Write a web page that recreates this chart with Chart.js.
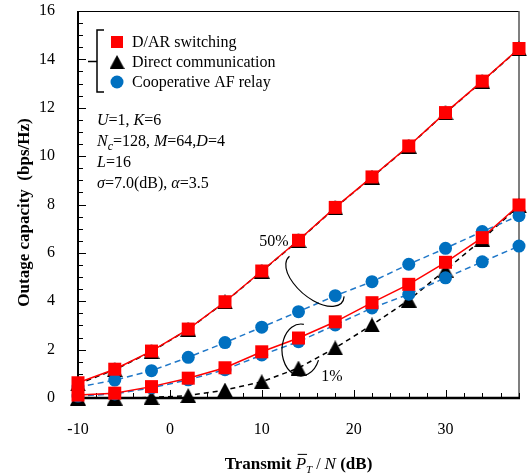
<!DOCTYPE html>
<html><head><meta charset="utf-8">
<script src="https://cdn.jsdelivr.net/npm/chart.js@4/dist/chart.umd.min.js"></script>
<style>html,body{margin:0;padding:0;background:#fff;}</style>
</head><body>
<canvas id="c" width="532" height="475"></canvas>
<script>
// ---- data ----
const snrDb = [-10, -6, -2, 2, 6, 10, 14, 18, 22, 26, 30, 34, 38];
const darHigh    = [0.63, 1.19, 1.94, 2.85, 3.98, 5.25, 6.52, 7.88, 9.14, 10.42, 11.80, 13.10, 14.45];
const directHigh = [0.58, 1.17, 1.92, 2.84, 3.97, 5.24, 6.51, 7.87, 9.13, 10.41, 11.79, 13.09, 14.44];
const afHigh     = [0.45, 0.74, 1.13, 1.68, 2.29, 2.93, 3.57, 4.23, 4.81, 5.53, 6.19, 6.88, 7.54];
const darLow     = [0.12, 0.20, 0.47, 0.82, 1.25, 1.91, 2.48, 3.15, 3.94, 4.70, 5.61, 6.63, 7.98];
const directLow  = [0.00, 0.00, 0.02, 0.10, 0.33, 0.67, 1.24, 2.07, 3.02, 4.05, 5.29, 6.55, 7.95];
const afLow      = [0.08, 0.17, 0.42, 0.75, 1.17, 1.78, 2.33, 3.02, 3.72, 4.29, 4.97, 5.63, 6.28];
const xTicks = [-10, 0, 10, 20, 30];
const yTicks = [0, 2, 4, 6, 8, 10, 12, 14, 16];
const legendLabels = ['D/AR switching', 'Direct communication', 'Cooperative AF relay'];
const annoLabels = ['50%', '1%'];

const FONT = '"Liberation Serif", "Times New Roman", serif';
const RED = '#FF0000', BLUE = '#0070C0', BLUE_LINE = '#1F77C8', BLACK = '#000000';

function triCanvas(w, h) {
  const c = document.createElement('canvas');
  c.width = w; c.height = h;
  const x = c.getContext('2d');
  x.fillStyle = '#000';
  x.beginPath(); x.moveTo(w / 2, 0); x.lineTo(w, h); x.lineTo(0, h); x.closePath(); x.fill();
  return c;
}
const TRI = triCanvas(16, 15);

const pts = arr => arr.map((v, i) => ({ x: snrDb[i], y: v }));

function ds(data, kind) {
  const base = { data: pts(data), fill: false, tension: 0, clip: false, borderWidth: 1.5, pointBorderWidth: 0 };
  if (kind === 'red') return Object.assign(base, { borderColor: RED, backgroundColor: RED, pointStyle: 'rect', pointRadius: 9.2, order: 1 });
  if (kind === 'blue') return Object.assign(base, { borderColor: BLUE_LINE, backgroundColor: BLUE, pointBackgroundColor: BLUE, pointStyle: 'circle', pointRadius: 6.5, borderDash: [6, 4], order: 2 });
  return Object.assign(base, { borderColor: BLACK, backgroundColor: BLACK, pointStyle: TRI, pointRadius: 8, borderDash: [5, 4], order: 3 });
}

function font(sz, it, bd) { return (it ? 'italic ' : '') + (bd ? 'bold ' : '') + sz + 'px ' + FONT; }

function drawRich(ctx, x, y, parts, align, defSz) {
  const dsz = defSz || 16;
  let total = 0;
  const ws = parts.map(p => { ctx.font = font(p.sz || dsz, p.it, p.bd); const w = ctx.measureText(p.t).width; total += w; return w; });
  let cx = align === 'center' ? x - total / 2 : x;
  ctx.textBaseline = 'alphabetic'; ctx.textAlign = 'left'; ctx.fillStyle = '#000';
  parts.forEach((p, i) => {
    ctx.font = font(p.sz || dsz, p.it, p.bd);
    const yy = p.sub ? y + 4 : y;
    ctx.fillText(p.t, cx, yy);
    if (p.over) {
      ctx.save(); ctx.strokeStyle = '#000'; ctx.lineWidth = 1;
      ctx.beginPath(); ctx.moveTo(cx + 2, y - dsz * 0.86); ctx.lineTo(cx + ws[i] + 1, y - dsz * 0.86); ctx.stroke(); ctx.restore();
    }
    cx += ws[i];
  });
}

const deco = {
  id: 'deco',
  beforeDatasetsDraw(chart) {
    const { ctx, chartArea: a, scales: { x, y } } = chart;
    ctx.save();
    ctx.strokeStyle = '#000';
    ctx.lineWidth = 1;
    ctx.beginPath(); ctx.moveTo(a.left, a.top + 0.5); ctx.lineTo(a.right, a.top + 0.5); ctx.stroke();
    ctx.strokeStyle = '#555'; ctx.lineWidth = 1.5;
    ctx.beginPath(); ctx.moveTo(a.right, a.top); ctx.lineTo(a.right, a.bottom); ctx.stroke();
    ctx.strokeStyle = '#000';
    ctx.lineWidth = 1;
    for (let v = 0; v <= 16.001; v += 0.5) {
      const py = Math.round(y.getPixelForValue(v)) + 0.5;
      const major = Math.abs(v - Math.round(v / 2) * 2) < 1e-6;
      ctx.beginPath(); ctx.moveTo(a.left, py); ctx.lineTo(a.left + (major ? 8 : 5), py); ctx.stroke();
    }
    for (let v = -10; v <= 38.001; v += 2) {
      const px = Math.round(x.getPixelForValue(v)) + 0.5;
      const major = Math.abs(v % 10) < 1e-6;
      ctx.beginPath(); ctx.moveTo(px, a.bottom); ctx.lineTo(px, a.bottom - (major ? 8 : 5)); ctx.stroke();
    }
    ctx.lineWidth = 2;
    ctx.beginPath(); ctx.moveTo(a.left, a.top); ctx.lineTo(a.left, a.bottom + 1); ctx.stroke();
    ctx.lineWidth = 2.5;
    ctx.beginPath(); ctx.moveTo(a.left - 1, a.bottom); ctx.lineTo(a.right + 1, a.bottom); ctx.stroke();
    ctx.restore();
  },
  afterDatasetsDraw(chart) {
    const { ctx } = chart;
    ctx.save();
    ctx.strokeStyle = '#000'; ctx.lineWidth = 1.5;
    ctx.beginPath(); ctx.moveTo(104, 30); ctx.lineTo(97, 30); ctx.lineTo(97, 92); ctx.lineTo(104, 92); ctx.stroke();
    ctx.beginPath(); ctx.moveTo(88, 61.5); ctx.lineTo(97, 61.5); ctx.stroke();
    const ly = [42, 62, 82];
    ctx.fillStyle = RED; ctx.fillRect(111, ly[0] - 6, 12, 12);
    ctx.drawImage(TRI, 117 - 7.5, ly[1] - 7, 15, 14);
    ctx.fillStyle = BLUE; ctx.beginPath(); ctx.arc(117, ly[2], 6.5, 0, Math.PI * 2); ctx.fill();
    ctx.fillStyle = '#000'; ctx.font = font(16); ctx.textBaseline = 'middle'; ctx.textAlign = 'left';
    legendLabels.forEach((t, i) => ctx.fillText(t, 132, ly[i] + 1));
    const px = 97;
    drawRich(ctx, px, 125, [{ t: 'U', it: 1 }, { t: '=1, ' }, { t: 'K', it: 1 }, { t: '=6' }]);
    drawRich(ctx, px, 146, [{ t: 'N', it: 1 }, { t: 'c', it: 1, sub: 1, sz: 12 }, { t: '=128, ' }, { t: 'M', it: 1 }, { t: '=64,' }, { t: 'D', it: 1 }, { t: '=4' }]);
    drawRich(ctx, px, 167, [{ t: 'L', it: 1 }, { t: '=16' }]);
    drawRich(ctx, px, 188, [{ t: 'σ', it: 1 }, { t: '=7.0(dB), ' }, { t: 'α', it: 1 }, { t: '=3.5' }]);
    ctx.font = font(16); ctx.textBaseline = 'middle'; ctx.textAlign = 'center';
    ctx.fillText(annoLabels[0], 274, 242);
    ctx.fillText(annoLabels[1], 332, 377);
    ctx.lineWidth = 1.2; ctx.strokeStyle = '#000';
    ctx.beginPath(); ctx.ellipse(315, 280, 35, 18, 40 * Math.PI / 180, -0.35, Math.PI + 0.1); ctx.stroke();
    ctx.beginPath(); ctx.ellipse(301, 350, 19, 26, 0, 0.4, 1.5 * Math.PI + 0.15); ctx.stroke();
    ctx.restore();
  },
  afterDraw(chart) {
    const { ctx, chartArea: a } = chart;
    ctx.save();
    ctx.translate(25, (a.top + a.bottom) / 2 + 8);
    ctx.rotate(-Math.PI / 2);
    ctx.font = font(17, 0, 1); ctx.textAlign = 'center'; ctx.textBaseline = 'middle'; ctx.fillStyle = '#000';
    ctx.fillText('Outage capacity  (bps/Hz)', 0, 0);
    ctx.restore();
    ctx.save();
    drawRich(ctx, (a.left + a.right) / 2, 469, [
      { t: 'Transmit ', bd: 1 }, { t: 'P', it: 1, over: 1 }, { t: 'T', it: 1, sub: 1, sz: 11 }, { t: ' / ', sz: 16 }, { t: 'N', it: 1 }, { t: ' (dB)', bd: 1 }
    ], 'center', 17);
    ctx.restore();
  }
};

new Chart(document.getElementById('c'), {
  type: 'line',
  data: {
    datasets: [
      ds(darHigh, 'red'), ds(darLow, 'red'),
      ds(afHigh, 'blue'), ds(afLow, 'blue'),
      ds(directHigh, 'black'), ds(directLow, 'black')
    ]
  },
  options: {
    responsive: false, animation: false, devicePixelRatio: 1,
    layout: { padding: { left: 0, right: 13, top: 11, bottom: 0 } },
    plugins: { legend: { display: false }, tooltip: { enabled: false } },
    scales: {
      x: {
        type: 'linear', min: -10, max: 38,
        grid: { display: false }, border: { display: false },
        ticks: { font: { family: FONT, size: 16 }, color: '#000', padding: 14, maxRotation: 0 },
        afterBuildTicks: s => { s.ticks = xTicks.map(v => ({ value: v })); },
        afterFit: s => { s.height = 77; s.paddingLeft = 0; s.paddingRight = 0; }
      },
      y: {
        type: 'linear', min: 0, max: 16,
        grid: { display: false }, border: { display: false },
        ticks: { font: { family: FONT, size: 16 }, color: '#000', padding: 15 },
        afterBuildTicks: s => { s.ticks = yTicks.map(v => ({ value: v })); },
        afterFit: s => { s.width = 78; s.paddingTop = 0; s.paddingBottom = 0; }
      }
    }
  },
  plugins: [deco]
});
</script>
</body></html>
